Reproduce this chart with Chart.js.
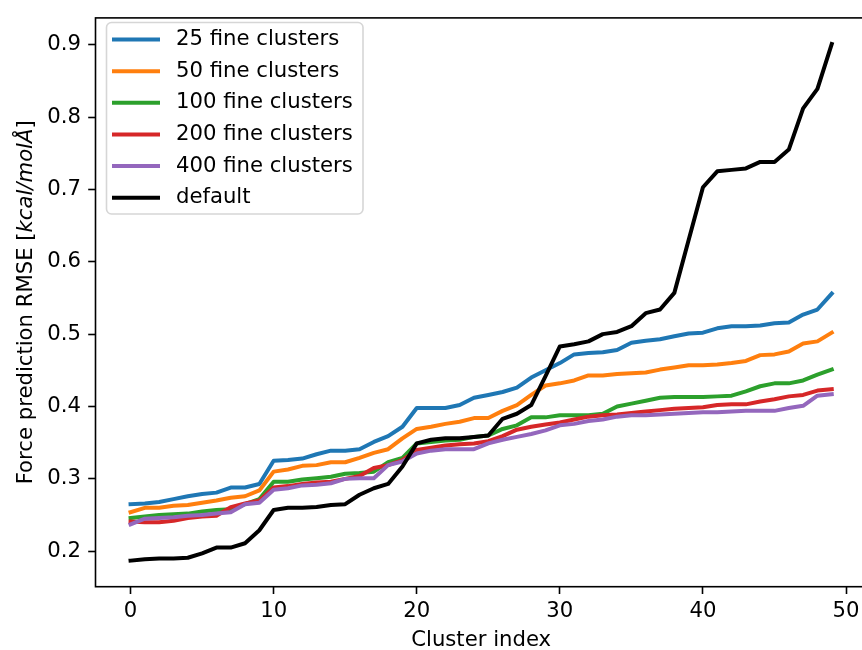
<!DOCTYPE html>
<html>
<head>
<meta charset="utf-8">
<script src="https://cdn.jsdelivr.net/npm/chart.js@4.4.0/dist/chart.umd.min.js"></script>
<style>
  html, body { margin: 0; padding: 0; background: #fff; width: 862px; height: 650px; overflow: hidden; }
  canvas { display: block; }
</style>
</head>
<body>
<canvas id="chart" width="870" height="650"></canvas>
<script>
// Cluster index (x categories)
const clusterIndex = [0, 1, 2, 3, 4, 5, 6, 7, 8, 9, 10, 11, 12, 13, 14, 15, 16, 17, 18, 19,
  20, 21, 22, 23, 24, 25, 26, 27, 28, 29, 30, 31, 32, 33, 34, 35, 36, 37, 38, 39,
  40, 41, 42, 43, 44, 45, 46, 47, 48, 49];

// Force prediction RMSE per cluster, one list per model
const rmse25 = [0.265, 0.266, 0.268, 0.272, 0.276, 0.279, 0.281, 0.288, 0.288, 0.293,
  0.325, 0.326, 0.328, 0.334, 0.339, 0.339, 0.341, 0.351, 0.359, 0.372,
  0.398, 0.398, 0.398, 0.402, 0.412, 0.416, 0.420, 0.426, 0.440, 0.450,
  0.460, 0.472, 0.474, 0.475, 0.478, 0.488, 0.491, 0.493, 0.497, 0.501,
  0.502, 0.508, 0.511, 0.511, 0.512, 0.515, 0.516, 0.527, 0.534, 0.556];
const rmse50 = [0.254, 0.260, 0.260, 0.263, 0.264, 0.267, 0.270, 0.274, 0.276, 0.284,
  0.310, 0.313, 0.318, 0.319, 0.323, 0.323, 0.329, 0.336, 0.341, 0.356,
  0.369, 0.372, 0.376, 0.379, 0.384, 0.384, 0.394, 0.402, 0.416, 0.429,
  0.432, 0.436, 0.443, 0.443, 0.445, 0.446, 0.447, 0.451, 0.454, 0.457,
  0.457, 0.458, 0.460, 0.463, 0.471, 0.472, 0.476, 0.487, 0.490, 0.502];
const rmse100 = [0.246, 0.248, 0.250, 0.251, 0.252, 0.255, 0.257, 0.258, 0.265, 0.272,
  0.296, 0.296, 0.299, 0.301, 0.303, 0.307, 0.308, 0.310, 0.323, 0.329,
  0.349, 0.351, 0.353, 0.354, 0.358, 0.360, 0.369, 0.374, 0.385, 0.385,
  0.388, 0.388, 0.388, 0.390, 0.400, 0.404, 0.408, 0.412, 0.413, 0.413,
  0.413, 0.414, 0.415, 0.421, 0.428, 0.432, 0.432, 0.436, 0.444, 0.451];
const rmse200 = [0.241, 0.240, 0.240, 0.242, 0.246, 0.248, 0.249, 0.261, 0.266, 0.270,
  0.288, 0.290, 0.293, 0.295, 0.296, 0.300, 0.304, 0.315, 0.319, 0.326,
  0.340, 0.343, 0.346, 0.348, 0.349, 0.352, 0.359, 0.368, 0.372, 0.375,
  0.378, 0.382, 0.386, 0.388, 0.389, 0.391, 0.393, 0.395, 0.397, 0.398,
  0.399, 0.402, 0.403, 0.403, 0.407, 0.410, 0.414, 0.416, 0.422, 0.424];
const rmse400 = [0.237, 0.245, 0.246, 0.247, 0.249, 0.250, 0.252, 0.254, 0.265, 0.267,
  0.285, 0.287, 0.291, 0.292, 0.294, 0.300, 0.301, 0.301, 0.319, 0.324,
  0.335, 0.339, 0.341, 0.341, 0.341, 0.349, 0.354, 0.358, 0.362, 0.367,
  0.374, 0.376, 0.380, 0.382, 0.386, 0.388, 0.388, 0.389, 0.390, 0.391,
  0.392, 0.392, 0.393, 0.394, 0.394, 0.394, 0.398, 0.401, 0.415, 0.417];
const rmseDefault = [0.187, 0.189, 0.190, 0.190, 0.191, 0.197, 0.205, 0.205, 0.211, 0.229,
  0.257, 0.260, 0.260, 0.261, 0.264, 0.265, 0.278, 0.287, 0.293, 0.317,
  0.349, 0.354, 0.356, 0.356, 0.358, 0.360, 0.383, 0.390, 0.402, 0.442,
  0.483, 0.486, 0.490, 0.500, 0.503, 0.511, 0.529, 0.534, 0.557, 0.630,
  0.703, 0.725, 0.727, 0.729, 0.738, 0.738, 0.755, 0.812, 0.839, 0.901];

const seriesNames = ['25 fine clusters', '50 fine clusters', '100 fine clusters',
  '200 fine clusters', '400 fine clusters', 'default'];
const seriesValues = [rmse25, rmse50, rmse100, rmse200, rmse400, rmseDefault];

// Tick labels
const xTickValues = [0, 10, 20, 30, 40, 50];
const yTickValues = [0.2, 0.3, 0.4, 0.5, 0.6, 0.7, 0.8, 0.9];

// Axis titles (the unit is set in italics)
const xTitle = 'Cluster index';
const yTitleParts = [
  { text: 'Force prediction RMSE [', style: 'normal' },
  { text: 'kcal/molÅ', style: 'italic' },
  { text: ']', style: 'normal' }
];

// Styling
const FONT = "'DejaVu Sans', sans-serif";
const FONT_SIZE = 21.2;
const seriesColors = ['#1f77b4', '#ff7f0e', '#2ca02c', '#d62728', '#9467bd', '#000000'];

const datasets = seriesValues.map((vals, k) => ({
  label: seriesNames[k],
  data: vals.map((v, j) => ({ x: clusterIndex[j], y: v })),
  borderColor: seriesColors[k],
  backgroundColor: seriesColors[k],
  borderWidth: 4,
  pointRadius: 0,
  pointHoverRadius: 0,
  tension: 0,
  fill: false,
  borderJoinStyle: 'round',
  borderCapStyle: 'square',
  // later series are painted on top
  order: seriesValues.length - 1 - k
}));

// Axes frame, in-plot legend and the rich y-axis title
const decorations = {
  id: 'decorations',
  afterDraw(chart) {
    const ctx = chart.ctx;
    const area = chart.chartArea;
    ctx.save();

    // frame around the plotting area
    ctx.strokeStyle = '#000';
    ctx.lineWidth = 1.6;
    ctx.strokeRect(area.left, area.top, area.right - area.left, area.bottom - area.top);

    // legend
    const box = { left: 106.5, top: 22.5, right: 363, bottom: 214, r: 5 };
    ctx.beginPath();
    ctx.roundRect(box.left, box.top, box.right - box.left, box.bottom - box.top, box.r);
    ctx.fillStyle = 'rgba(255,255,255,0.8)';
    ctx.fill();
    ctx.strokeStyle = '#d6d6d6';
    ctx.lineWidth = 1.6;
    ctx.stroke();

    ctx.font = `${FONT_SIZE}px ${FONT}`;
    ctx.textAlign = 'left';
    ctx.textBaseline = 'middle';
    chart.data.datasets.forEach((ds, k) => {
      const y = 39.5 + k * 31.65;
      ctx.beginPath();
      ctx.moveTo(112, y);
      ctx.lineTo(160, y);
      ctx.strokeStyle = ds.borderColor;
      ctx.lineWidth = 4;
      ctx.lineCap = 'butt';
      ctx.stroke();
      ctx.fillStyle = '#000';
      ctx.fillText(ds.label, 176, y);
    });

    // y-axis title, rotated, with italic unit
    const widths = yTitleParts.map(p => {
      ctx.font = `${p.style} ${FONT_SIZE}px ${FONT}`;
      return ctx.measureText(p.text).width;
    });
    const total = widths.reduce((a, b) => a + b, 0);
    ctx.translate(32, (area.top + area.bottom) / 2);
    ctx.rotate(-Math.PI / 2);
    ctx.textBaseline = 'alphabetic';
    ctx.fillStyle = '#000';
    let x = -total / 2;
    yTitleParts.forEach((p, i) => {
      ctx.font = `${p.style} ${FONT_SIZE}px ${FONT}`;
      ctx.fillText(p.text, x, 0);
      x += widths[i];
    });
    ctx.restore();
  }
};

const tickFont = { family: FONT, size: FONT_SIZE, lineHeight: 1 };
const tickGrid = {
  drawOnChartArea: false,
  drawTicks: true,
  tickLength: 7.3,
  tickWidth: 1.6,
  tickColor: '#000',
  color: '#000'
};

new Chart(document.getElementById('chart'), {
  type: 'line',
  data: { datasets },
  options: {
    responsive: false,
    animation: false,
    devicePixelRatio: 1,
    layout: { padding: { top: 11, right: 3.2, left: 0, bottom: 0 } },
    plugins: {
      legend: { display: false },
      tooltip: { enabled: false }
    },
    scales: {
      x: {
        type: 'linear',
        min: -2.45,
        max: 51.45,
        afterFit: s => { s.height = 63.3; },
        afterBuildTicks: s => { s.ticks = xTickValues.map(v => ({ value: v })); },
        grid: tickGrid,
        border: { display: false },
        ticks: {
          padding: 7.0,
          color: '#000',
          font: tickFont,
          maxRotation: 0,
          autoSkip: false,
          callback: v => String(v)
        },
        title: {
          display: true,
          text: xTitle,
          color: '#000',
          font: { family: FONT, size: FONT_SIZE, lineHeight: 1 },
          padding: { top: 0, bottom: -1.5 }
        }
      },
      y: {
        type: 'linear',
        min: 0.151,
        max: 0.937,
        afterFit: s => { s.width = 95.5; },
        afterBuildTicks: s => { s.ticks = yTickValues.map(v => ({ value: v })); },
        grid: tickGrid,
        border: { display: false },
        ticks: {
          padding: 7.3,
          color: '#000',
          font: tickFont,
          autoSkip: false,
          callback: v => v.toFixed(1)
        }
      }
    }
  },
  plugins: [decorations]
});
</script>
</body>
</html>
